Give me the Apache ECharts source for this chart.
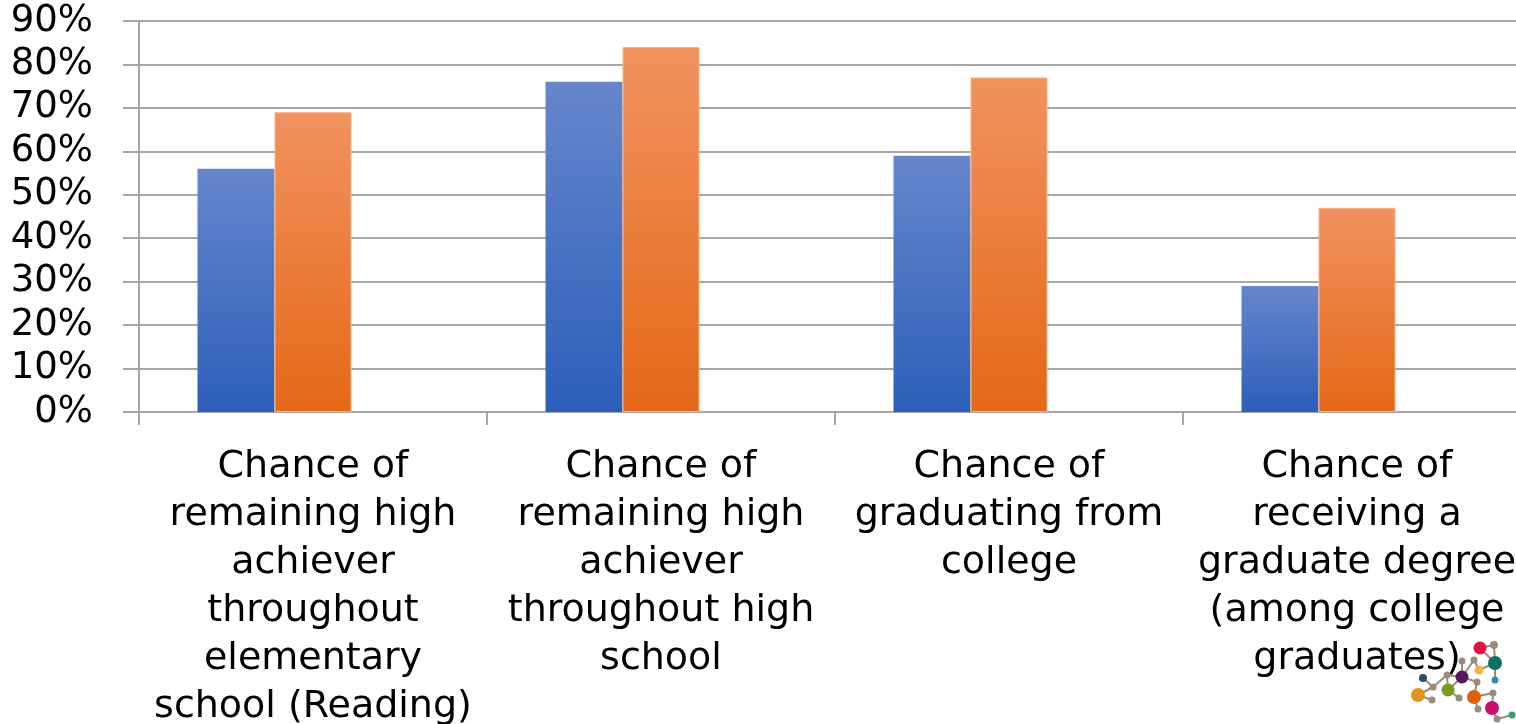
<!DOCTYPE html>
<html>
<head>
<meta charset="utf-8">
<script src="https://cdn.jsdelivr.net/npm/echarts@6/dist/echarts.min.js"></script>
<style>
html,body{margin:0;padding:0;background:#fff;}
#chart{width:1516px;height:724px;}
</style>
</head>
<body>
<div id="chart"></div>
<script>
const categories = [
  "Chance of\nremaining high\nachiever\nthroughout\nelementary\nschool (Reading)",
  "Chance of\nremaining high\nachiever\nthroughout high\nschool",
  "Chance of\ngraduating from\ncollege",
  "Chance of\nreceiving a\ngraduate degree\n(among college\ngraduates)"
];
const seriesBlue = [56, 76, 59, 29];
const seriesOrange = [69, 84, 77, 47];
// third (empty) series slot present in the original chart
const seriesEmpty = [null, null, null, null];
const yTicks = [0, 10, 20, 30, 40, 50, 60, 70, 80, 90];

const FONT = "DejaVu Sans";
const gridColor = "#a6a6a6";

function grad(top, bottom) {
  return new echarts.graphic.LinearGradient(0, 0, 0, 1, [
    { offset: 0, color: top },
    { offset: 1, color: bottom }
  ]);
}

// decorative logo (not data)
const logoNodes = [
  [1480,648,6.5,"#e0143c"],[1494,645,4,"#9c8a7c"],[1495,663,7,"#0e7060"],
  [1479,670,4.5,"#f5b440"],[1495,680,3.5,"#2a8fb0"],[1462,677,6.5,"#561a5c"],
  [1462,661,3.5,"#9c8a7c"],[1474,660,3.5,"#9c8a7c"],[1477,682,3.5,"#9c8a7c"],
  [1423,678,4,"#27506a"],[1433,687,3.5,"#9c8a7c"],[1447,675,3.5,"#9c8a7c"],
  [1418,695,7,"#e0961a"],[1432,700,3.5,"#9c8a7c"],[1448,690,6.5,"#7a9a1a"],
  [1459,698,3.5,"#9c8a7c"],[1474,697,7,"#e06010"],[1493,693,3.5,"#9c8a7c"],
  [1478,709,3.5,"#9c8a7c"],[1492,708,7,"#c8106a"],[1497,719,3.5,"#9c8a7c"],
  [1512,715,3.5,"#3aa070"]
];
const logoLinks = [[0,1],[1,2],[0,2],[2,3],[2,4],[3,7],[5,6],[5,7],[5,8],[5,11],[9,10],[10,11],[10,12],[12,13],[11,14],[14,15],[14,5],[8,16],[16,17],[16,18],[17,19],[19,20],[20,21]];
const logoGraphics = [];
logoLinks.forEach(([a,b]) => {
  logoGraphics.push({type:"line", silent:true, z:1, shape:{x1:logoNodes[a][0],y1:logoNodes[a][1],x2:logoNodes[b][0],y2:logoNodes[b][1]}, style:{stroke:"#9c8a7c",lineWidth:2}});
});
logoNodes.forEach(n => {
  logoGraphics.push({type:"circle", silent:true, z:2, shape:{cx:n[0],cy:n[1],r:n[2]}, style:{fill:n[3]}});
});

const chart = echarts.init(document.getElementById("chart"), null, { renderer: "canvas" });
chart.setOption({
  animation: false,
  backgroundColor: "#ffffff",
  grid: { left: 139, top: 21, right: -15, bottom: 312, outerBoundsMode: "none", containLabel: false },
  xAxis: {
    type: "category",
    data: categories,
    axisLine: { show: true, lineStyle: { color: gridColor, width: 2 } },
    axisTick: { show: true, length: 13, lineStyle: { color: gridColor, width: 2 } },
    axisLabel: {
      interval: 0,
      margin: 31,
      fontFamily: FONT,
      fontSize: 38,
      lineHeight: 48,
      color: "#000000",
      align: "center"
    }
  },
  yAxis: {
    type: "value",
    min: 0,
    max: 90,
    interval: 10,
    axisLine: { show: true, lineStyle: { color: gridColor, width: 2 } },
    axisTick: { show: true, inside: false, length: 16, lineStyle: { color: gridColor, width: 2 } },
    splitLine: { show: true, lineStyle: { color: gridColor, width: 2 } },
    axisLabel: {
      margin: 46,
      fontFamily: FONT,
      fontSize: 37,
      color: "#000000",
      formatter: v => yTicks.includes(v) ? v + "%" : ""
    }
  },
  series: [
    {
      type: "bar",
      data: seriesBlue,
      barWidth: 77,
      barGap: "0%",
      itemStyle: { color: grad("#6686cc", "#2c5fb9") }
    },
    {
      type: "bar",
      data: seriesOrange,
      barWidth: 77,
      barGap: "0%",
      itemStyle: { color: grad("#f19260", "#e46817"), borderColor: "#f6b48a", borderWidth: 1 }
    },
    {
      type: "bar",
      data: seriesEmpty,
      barWidth: 77,
      barGap: "0%",
      itemStyle: { color: "#a5a5a5" }
    }
  ],
  graphic: logoGraphics
});
</script>
</body>
</html>
